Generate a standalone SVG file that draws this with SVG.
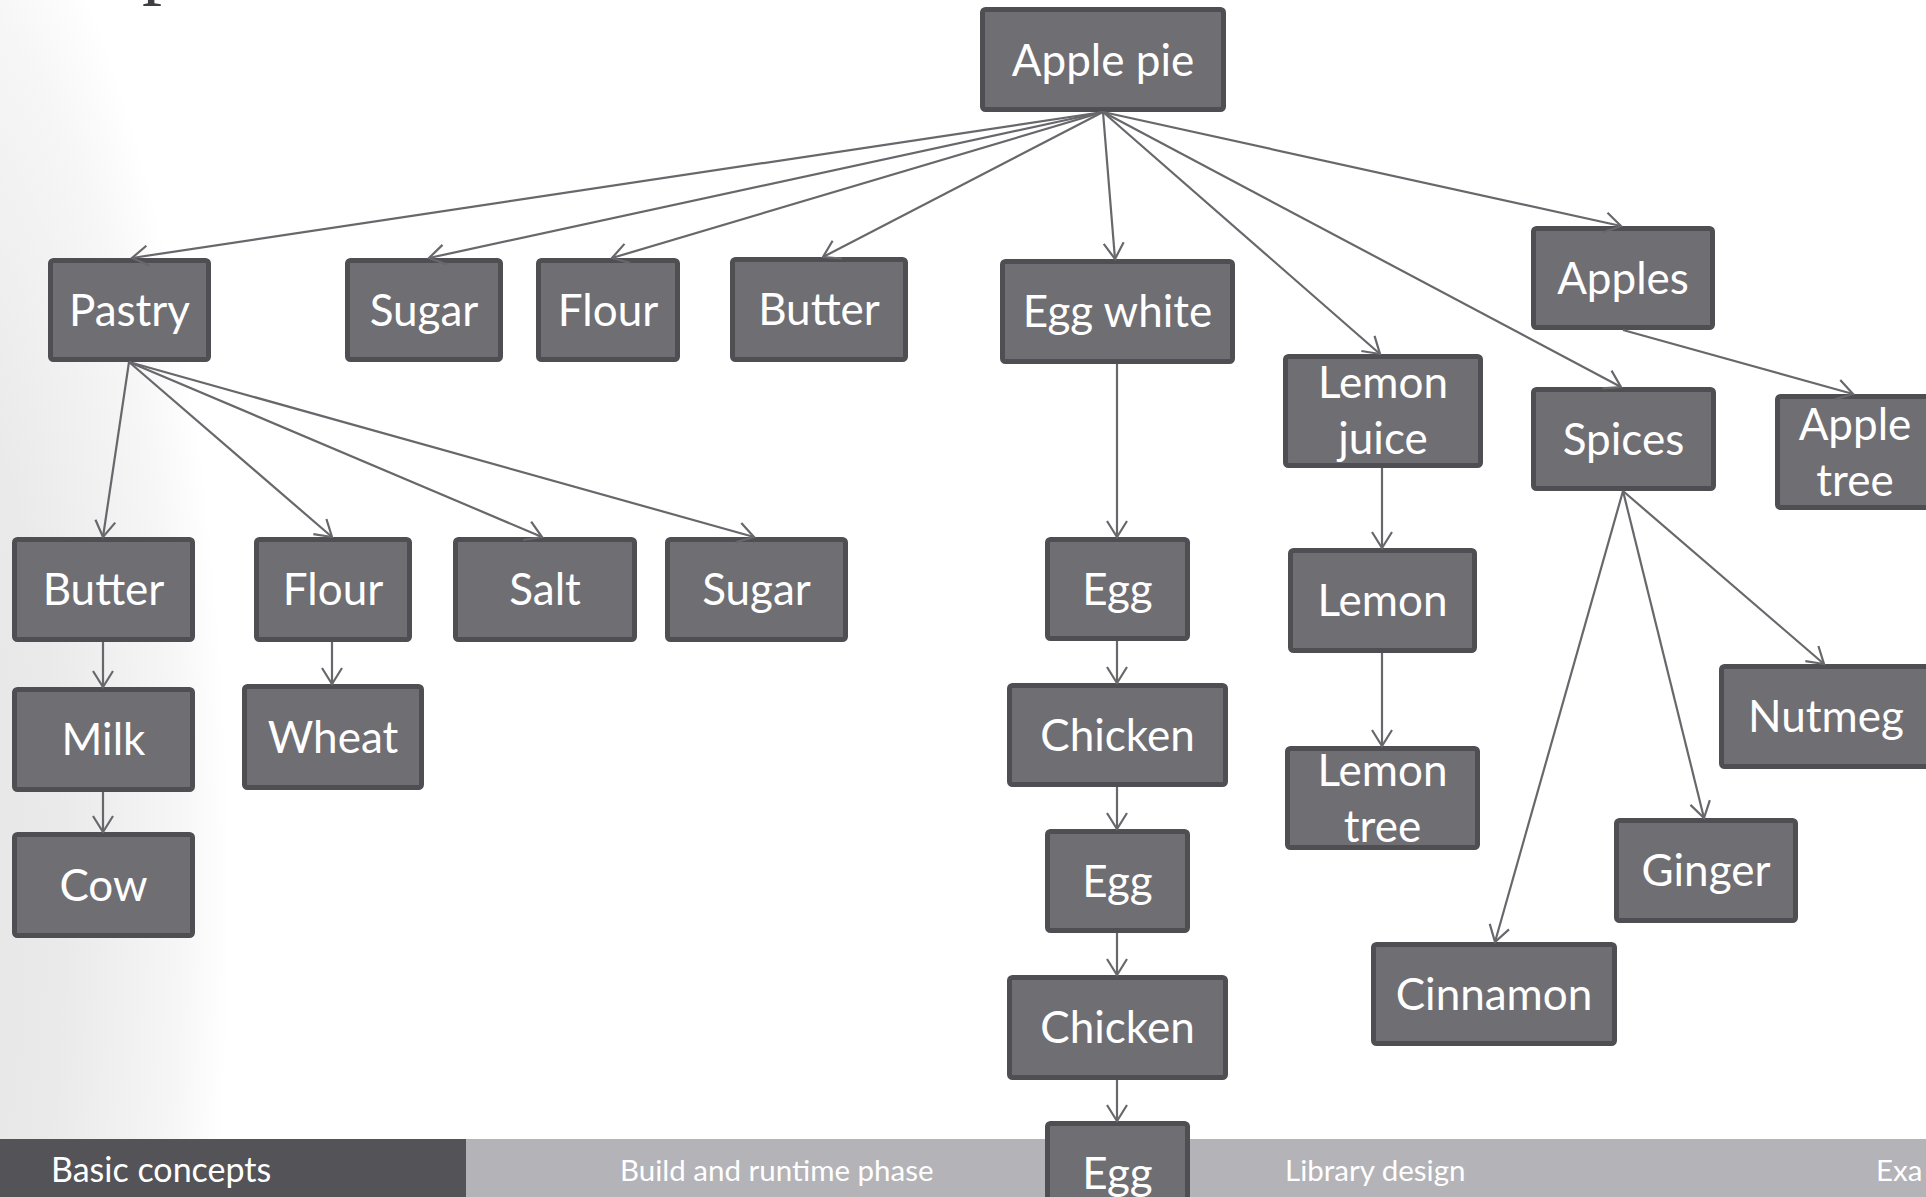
<svg xmlns="http://www.w3.org/2000/svg" width="1926" height="1197" viewBox="0 0 1926 1197">
  <defs>
    <radialGradient id="sideShade" gradientUnits="userSpaceOnUse" cx="0" cy="0" r="1" gradientTransform="translate(-100 900) scale(330 1100)">
      <stop offset="0" stop-color="#e4e4e4"/>
      <stop offset="0.5" stop-color="#eaeaea"/>
      <stop offset="0.85" stop-color="#f6f6f6"/>
      <stop offset="1" stop-color="#ffffff"/>
    </radialGradient>
    <marker id="arrow" markerUnits="userSpaceOnUse" viewBox="-19 -12 21 24" markerWidth="21" markerHeight="24" refX="0" refY="0" orient="auto">
      <path d="M-16,-10 L0,0 L-16,10" fill="none" stroke="#68676b" stroke-width="2.2"/>
    </marker>
  </defs>
  <style>
    .box { fill: #6f6e73; stroke: #4f4e52; stroke-width: 5; }
    .label { font-family: Lato, "Open Sans", sans-serif; font-size: 44px; fill: #ffffff; text-anchor: middle; }
    .edge { stroke: #68676b; stroke-width: 2.2; fill: none; marker-end: url(#arrow); }
    .tab { font-family: Lato, "Open Sans", sans-serif; font-size: 29.5px; fill: #ffffff; }
    .tab-current { font-size: 34px; }
  </style>

  <!-- page background with soft shading on the left -->
  <rect x="0" y="0" width="1926" height="1197" fill="#ffffff"/>
  <rect x="0" y="0" width="420" height="1139" fill="url(#sideShade)"/>

  <!-- descender of the page heading above the top edge -->
  <text x="142" y="-11" font-family="Liberation Serif, serif" font-size="80" fill="#3f3e42">p</text>

  <!-- section navigation bar -->
  <g id="navbar">
    <rect x="0" y="1139" width="466" height="58" fill="#545357"/>
    <rect x="466" y="1139" width="1460" height="58" fill="#b4b3b8"/>
    <text class="tab tab-current" x="51" y="1182">Basic concepts</text>
    <text class="tab" x="620" y="1181">Build and runtime phase</text>
    <text class="tab" x="1285" y="1181">Library design</text>
    <text class="tab" x="1876" y="1181">Exa</text>
  </g>

  <!-- nodes -->
  <g id="applepie"><rect class="box" x="982.5" y="9.5" width="241" height="100" rx="3"/><text class="label" x="1103" y="76">Apple pie</text></g>
  <g id="pastry"><rect class="box" x="50.5" y="260.5" width="158" height="99" rx="3"/><text class="label" x="129.5" y="326">Pastry</text></g>
  <g id="sugar-top"><rect class="box" x="347.5" y="260.5" width="153" height="99" rx="3"/><text class="label" x="424" y="326">Sugar</text></g>
  <g id="flour-top"><rect class="box" x="538.5" y="260.5" width="139" height="99" rx="3"/><text class="label" x="608" y="326">Flour</text></g>
  <g id="butter-top"><rect class="box" x="732.5" y="259.5" width="173" height="100" rx="3"/><text class="label" x="819" y="325">Butter</text></g>
  <g id="eggwhite"><rect class="box" x="1002.5" y="261.5" width="230" height="100" rx="3"/><text class="label" x="1117.5" y="327">Egg white</text></g>
  <g id="lemonjuice"><rect class="box" x="1285.5" y="356.5" width="195" height="109" rx="3"/><text class="label" x="1383" y="398">Lemon</text><text class="label" x="1383" y="454">juice</text></g>
  <g id="apples"><rect class="box" x="1533.5" y="228.5" width="179" height="99" rx="3"/><text class="label" x="1623" y="294">Apples</text></g>
  <g id="spices"><rect class="box" x="1533.5" y="389.5" width="180" height="99" rx="3"/><text class="label" x="1623.5" y="455">Spices</text></g>
  <g id="appletree"><rect class="box" x="1777.5" y="396.5" width="155" height="111" rx="3"/><text class="label" x="1855" y="440">Apple</text><text class="label" x="1855" y="496">tree</text></g>
  <g id="butter-pastry"><rect class="box" x="14.5" y="539.5" width="178" height="100" rx="3"/><text class="label" x="103.5" y="605">Butter</text></g>
  <g id="flour-pastry"><rect class="box" x="256.5" y="539.5" width="153" height="100" rx="3"/><text class="label" x="333" y="605">Flour</text></g>
  <g id="salt"><rect class="box" x="455.5" y="539.5" width="179" height="100" rx="3"/><text class="label" x="545" y="605">Salt</text></g>
  <g id="sugar-pastry"><rect class="box" x="667.5" y="539.5" width="178" height="100" rx="3"/><text class="label" x="756.5" y="605">Sugar</text></g>
  <g id="milk"><rect class="box" x="14.5" y="689.5" width="178" height="100" rx="3"/><text class="label" x="103.5" y="755">Milk</text></g>
  <g id="wheat"><rect class="box" x="244.5" y="686.5" width="177" height="101" rx="3"/><text class="label" x="333" y="753">Wheat</text></g>
  <g id="cow"><rect class="box" x="14.5" y="834.5" width="178" height="101" rx="3"/><text class="label" x="103.5" y="901">Cow</text></g>
  <g id="egg-1"><rect class="box" x="1047.5" y="539.5" width="140" height="99" rx="3"/><text class="label" x="1117.5" y="605">Egg</text></g>
  <g id="chicken-1"><rect class="box" x="1009.5" y="685.5" width="216" height="99" rx="3"/><text class="label" x="1117.5" y="751">Chicken</text></g>
  <g id="egg-2"><rect class="box" x="1047.5" y="831.5" width="140" height="99" rx="3"/><text class="label" x="1117.5" y="897">Egg</text></g>
  <g id="chicken-2"><rect class="box" x="1009.5" y="977.5" width="216" height="100" rx="3"/><text class="label" x="1117.5" y="1043">Chicken</text></g>
  <g id="egg-3"><rect class="box" x="1047.5" y="1123.5" width="140" height="99" rx="3"/><text class="label" x="1117.5" y="1189">Egg</text></g>
  <g id="lemon"><rect class="box" x="1290.5" y="550.5" width="184" height="100" rx="3"/><text class="label" x="1382.5" y="616">Lemon</text></g>
  <g id="lemontree"><rect class="box" x="1287.5" y="748.5" width="190" height="99" rx="3"/><text class="label" x="1382.5" y="786">Lemon</text><text class="label" x="1382.5" y="842">tree</text></g>
  <g id="nutmeg"><rect class="box" x="1721.5" y="666.5" width="210" height="100" rx="3"/><text class="label" x="1826" y="732">Nutmeg</text></g>
  <g id="ginger"><rect class="box" x="1616.5" y="820.5" width="179" height="100" rx="3"/><text class="label" x="1706" y="886">Ginger</text></g>
  <g id="cinnamon"><rect class="box" x="1373.5" y="944.5" width="241" height="99" rx="3"/><text class="label" x="1494" y="1010">Cinnamon</text></g>

  <!-- connectors -->
  <g id="connectors">
    <line class="edge" x1="1103" y1="112" x2="132" y2="258"/>
    <line class="edge" x1="1103" y1="112" x2="429" y2="258"/>
    <line class="edge" x1="1103" y1="112" x2="612" y2="258"/>
    <line class="edge" x1="1103" y1="112" x2="823" y2="257"/>
    <line class="edge" x1="1103" y1="112" x2="1115" y2="259"/>
    <line class="edge" x1="1103" y1="112" x2="1380" y2="354"/>
    <line class="edge" x1="1103" y1="112" x2="1621" y2="387"/>
    <line class="edge" x1="1103" y1="112" x2="1621" y2="226"/>
    <line class="edge" x1="129" y1="362" x2="103" y2="537"/>
    <line class="edge" x1="129" y1="362" x2="332" y2="537"/>
    <line class="edge" x1="129" y1="362" x2="542" y2="537"/>
    <line class="edge" x1="129" y1="362" x2="754" y2="537"/>
    <line class="edge" x1="103" y1="642" x2="103" y2="687"/>
    <line class="edge" x1="103" y1="792" x2="103" y2="832"/>
    <line class="edge" x1="332" y1="642" x2="332" y2="684"/>
    <line class="edge" x1="1117" y1="364" x2="1117" y2="537"/>
    <line class="edge" x1="1117" y1="641" x2="1117" y2="683"/>
    <line class="edge" x1="1117" y1="787" x2="1117" y2="829"/>
    <line class="edge" x1="1117" y1="933" x2="1117" y2="975"/>
    <line class="edge" x1="1117" y1="1080" x2="1117" y2="1121"/>
    <line class="edge" x1="1382" y1="468" x2="1382" y2="548"/>
    <line class="edge" x1="1382" y1="653" x2="1382" y2="746"/>
    <line class="edge" x1="1623" y1="330" x2="1853" y2="394"/>
    <line class="edge" x1="1623" y1="491" x2="1495" y2="942"/>
    <line class="edge" x1="1623" y1="491" x2="1704" y2="818"/>
    <line class="edge" x1="1623" y1="491" x2="1824" y2="664"/>
  </g>
</svg>
